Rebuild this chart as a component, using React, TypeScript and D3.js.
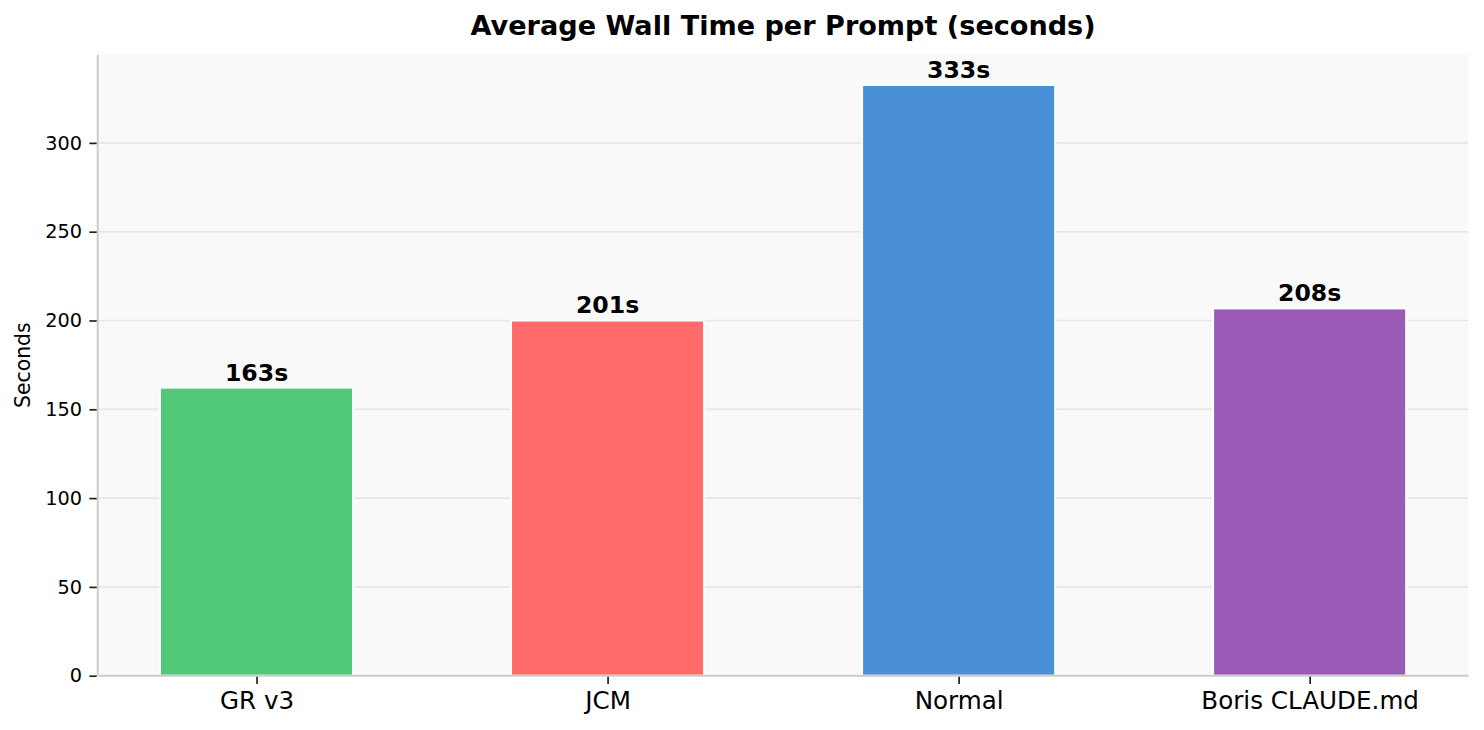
import { useEffect, useRef } from 'react';
import * as d3 from 'd3';

const categories = ['GR v3', 'JCM', 'Normal', 'Boris CLAUDE.md'];
const seconds = [162.2, 200, 332.6, 206.8];
const valueLabels = ['163s', '201s', '333s', '208s'];
const barColors = ['#50C878', '#FF6B6B', '#4A90D9', '#9B59B6'];
const yTicks = [0, 50, 100, 150, 200, 250, 300];

const WIDTH = 1484;
const HEIGHT = 730;
const FONT = '"DejaVu Sans", sans-serif';

export default function App() {
  const svgRef = useRef<SVGSVGElement>(null);

  useEffect(() => {
    if (!svgRef.current) return;
    const svg = d3.select(svgRef.current);
    svg.selectAll('*').remove();

    const plot = { left: 97.7, right: 1468.5, top: 54.7, bottom: 675.7 };
    const barWidth = 0.55;

    // matplotlib-style margins: 5% around the bar extents
    const x = d3.scaleLinear()
      .domain([-0.4525, 3.4525])
      .range([plot.left, plot.right]);

    const y = d3.scaleLinear()
      .domain([0, 349.65])
      .range([plot.bottom, plot.top]);

    svg.append('rect')
      .attr('x', plot.left)
      .attr('y', plot.top)
      .attr('width', plot.right - plot.left)
      .attr('height', plot.bottom - plot.top)
      .attr('fill', '#f9f9f9');

    // grid
    svg.append('g')
      .selectAll('line')
      .data(yTicks)
      .join('line')
      .attr('x1', plot.left)
      .attr('x2', plot.right)
      .attr('y1', (d) => y(d))
      .attr('y2', (d) => y(d))
      .attr('stroke', '#e6e6e6')
      .attr('stroke-width', 1.6);

    // bars
    svg.append('g')
      .selectAll('rect')
      .data(seconds)
      .join('rect')
      .attr('x', (_d, i) => x(i - barWidth / 2))
      .attr('y', (d) => y(d))
      .attr('width', (_d, i) => x(i + barWidth / 2) - x(i - barWidth / 2))
      .attr('height', (d) => y(0) - y(d))
      .attr('fill', (_d, i) => barColors[i])
      .attr('stroke', '#ffffff')
      .attr('stroke-width', 2);

    // value labels
    svg.append('g')
      .selectAll('text')
      .data(seconds)
      .join('text')
      .attr('x', (_d, i) => x(i))
      .attr('y', (d) => y(d) - 7)
      .attr('text-anchor', 'middle')
      .attr('font-family', FONT)
      .attr('font-weight', 'bold')
      .attr('font-size', 23.6)
      .attr('fill', '#000')
      .text((_d, i) => valueLabels[i]);

    // spines
    svg.append('line')
      .attr('x1', plot.left).attr('x2', plot.left)
      .attr('y1', plot.top).attr('y2', plot.bottom)
      .attr('stroke', '#cccccc').attr('stroke-width', 2);
    svg.append('line')
      .attr('x1', plot.left).attr('x2', plot.right)
      .attr('y1', plot.bottom).attr('y2', plot.bottom)
      .attr('stroke', '#cccccc').attr('stroke-width', 2);

    // y axis
    const yAxis = svg.append('g')
      .attr('transform', `translate(${plot.left - 1}, 0)`)
      .call(d3.axisLeft(y).tickValues(yTicks).tickSize(7.3).tickPadding(7.3).tickFormat((d) => `${d}`));
    yAxis.select('.domain').remove();
    yAxis.selectAll('.tick line').attr('stroke', '#222').attr('stroke-width', 1.7);
    yAxis.selectAll('.tick text')
      .attr('font-family', FONT)
      .attr('font-size', 19.3)
      .attr('fill', '#000');

    // x axis
    const xAxis = svg.append('g')
      .attr('transform', `translate(0, ${plot.bottom + 1})`)
      .call(d3.axisBottom(x).tickValues([0, 1, 2, 3]).tickSize(7.3).tickPadding(7.3)
        .tickFormat((d) => categories[Number(d)]));
    xAxis.select('.domain').remove();
    xAxis.selectAll('.tick line').attr('stroke', '#222').attr('stroke-width', 1.7);
    xAxis.selectAll('.tick text')
      .attr('font-family', FONT)
      .attr('font-size', 24.6)
      .attr('fill', '#000');

    // y label
    svg.append('text')
      .attr('transform', `translate(30, ${(plot.top + plot.bottom) / 2}) rotate(-90)`)
      .attr('text-anchor', 'middle')
      .attr('font-family', FONT)
      .attr('font-size', 20.4)
      .attr('fill', '#000')
      .text('Seconds');

    // title
    svg.append('text')
      .attr('x', (plot.left + plot.right) / 2)
      .attr('y', 35)
      .attr('text-anchor', 'middle')
      .attr('font-family', FONT)
      .attr('font-weight', 'bold')
      .attr('font-size', 27.1)
      .attr('fill', '#000')
      .text('Average Wall Time per Prompt (seconds)');
  }, []);

  return (
    <svg
      ref={svgRef}
      width={WIDTH}
      height={HEIGHT}
      viewBox={`0 0 ${WIDTH} ${HEIGHT}`}
      style={{ position: 'fixed', left: 0, top: 0, background: '#ffffff' }}
    />
  );
}
